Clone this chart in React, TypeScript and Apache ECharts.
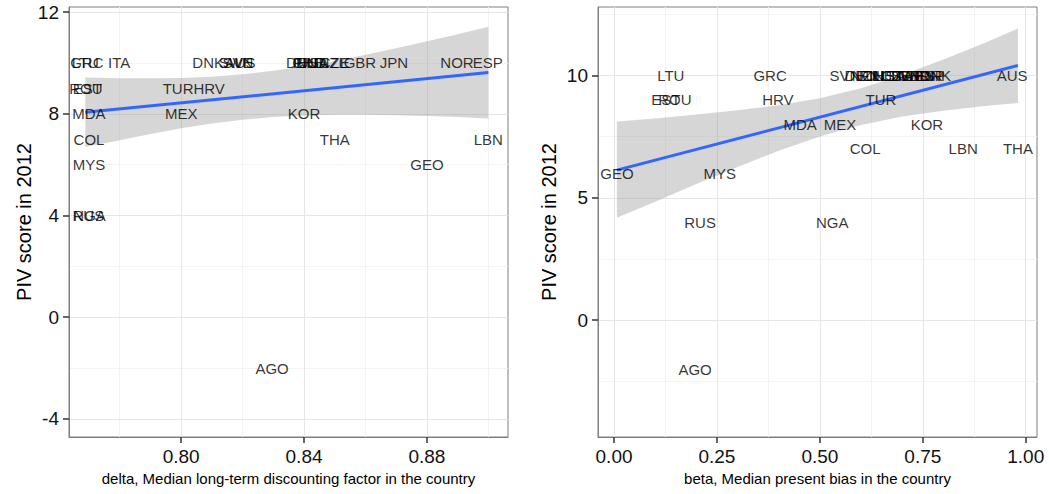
import React, { useEffect, useRef } from "react";
import * as echarts from "echarts";

// ---- data ----
const countries = [
  "LTU", "GRC", "ITA", "DNK", "SWE", "AUS", "SVN", "DEU", "FIN", "CHE", "NLD", "USA",
  "NZL", "CZE", "GBR", "JPN", "NOR", "ESP", "EST", "ROU", "TUR", "HRV", "MDA", "MEX",
  "KOR", "COL", "THA", "LBN", "MYS", "GEO", "RUS", "NGA", "AGO",
];
const delta = [
  0.7688, 0.7693, 0.7798, 0.8088, 0.8178, 0.8192, 0.8185, 0.8393, 0.8403, 0.8413, 0.8423, 0.843,
  0.8493, 0.85, 0.8582, 0.8693, 0.8898, 0.8998, 0.7695, 0.769, 0.799, 0.8091, 0.77, 0.8,
  0.84, 0.77, 0.85, 0.9, 0.77, 0.88, 0.7698, 0.7702, 0.8296,
];
const beta = [
  0.138, 0.379, 0.7, 0.78, 0.714, 0.967, 0.561, 0.598, 0.627, 0.641, 0.656, 0.67,
  0.612, 0.685, 0.729, 0.743, 0.758, 0.767, 0.126, 0.148, 0.6485, 0.398, 0.452, 0.549,
  0.76, 0.61, 0.981, 0.848, 0.257, 0.007, 0.209, 0.53, 0.197,
];
const piv = [
  10, 10, 10, 10, 10, 10, 10, 10, 10, 10, 10, 10,
  10, 10, 10, 10, 10, 10, 9, 9, 9, 9, 8, 8,
  8, 7, 7, 7, 6, 6, 4, 4, -2,
];

// fitted lines and confidence bands
const deltaFitX = [0.7688, 0.9];
const deltaFitY = [8.06, 9.62];
const deltaBandX = [0.7688, 0.78, 0.79, 0.8, 0.81, 0.82, 0.83, 0.84, 0.85, 0.86, 0.87, 0.88, 0.89, 0.9];
const deltaBandLo = [6.69, 6.96, 7.21, 7.43, 7.62, 7.77, 7.87, 7.93, 7.96, 7.96, 7.94, 7.91, 7.87, 7.82];
const deltaBandHi = [9.43, 9.4, 9.4, 9.41, 9.46, 9.56, 9.69, 9.87, 10.08, 10.32, 10.58, 10.85, 11.13, 11.42];

const betaFitX = [0.007, 0.981];
const betaFitY = [6.13, 10.41];
const betaBandX = [0.007, 0.1, 0.2, 0.3, 0.4, 0.5, 0.6, 0.7, 0.8, 0.9, 0.981];
const betaBandLo = [4.18, 4.84, 5.56, 6.26, 6.92, 7.51, 7.98, 8.32, 8.56, 8.75, 8.88];
const betaBandHi = [8.12, 8.24, 8.4, 8.58, 8.78, 9.07, 9.48, 10.02, 10.65, 11.33, 11.92];

// ticks
const deltaTicks = [0.8, 0.84, 0.88];
const deltaMinor = [0.78, 0.82, 0.86, 0.9];
const betaTicks = [0, 0.25, 0.5, 0.75, 1.0];
const betaMinor = [0.125, 0.375, 0.625, 0.875];
const pivTicksL = [-4, 0, 4, 8, 12];
const pivMinorL = [-2, 2, 6, 10];
const pivTicksR = [0, 5, 10];
const pivMinorR = [-2.5, 2.5, 7.5, 12.5];

const FONT = "'Liberation Sans', Arial, sans-serif";

function majorAxis(o: any) {
  return {
    type: "value",
    gridIndex: o.grid,
    min: o.min,
    max: o.max,
    position: o.pos,
    z: 1,
    name: o.name,
    nameLocation: "middle",
    nameGap: o.nameGap,
    nameTextStyle: { fontFamily: FONT, fontSize: o.nameSize, color: "#000" },
    axisLine: { show: true, onZero: false, lineStyle: { color: "#7f7f7f", width: 1 } },
    axisTick: { show: true, length: 6, customValues: o.ticks, lineStyle: { color: "#333", width: 1.5 } },
    axisLabel: {
      show: true,
      customValues: o.ticks,
      margin: o.margin,
      fontFamily: FONT,
      fontSize: 19,
      color: "#111",
      formatter: o.fmt,
    },
    splitLine: { show: true, lineStyle: { color: "#e6e6e6", width: 1 } },
  };
}

function minorAxis(o: any) {
  return {
    type: "value",
    gridIndex: o.grid,
    min: o.min,
    max: o.max,
    position: o.pos,
    z: 0,
    axisLine: { show: false, onZero: false },
    axisTick: { show: false, customValues: o.ticks },
    axisLabel: { show: false },
    splitLine: { show: true, lineStyle: { color: "#f3f3f3", width: 1 } },
  };
}

const LX = { min: 0.7635, max: 0.9064 };
const LY = { min: -4.71, max: 12.2 };
const RX = { min: -0.0389, max: 1.0274 };
const RY = { min: -4.78, max: 12.8 };

function bandSeries(xi: number, bx: number[], lo: number[], hi: number[]) {
  return {
    type: "custom",
    coordinateSystem: "cartesian2d",
    xAxisIndex: xi,
    yAxisIndex: xi,
    silent: true,
    z: 2,
    encode: { x: 0, y: [1, 2] },
    data: bx.map((x, i) => [x, lo[i], hi[i]]),
    renderItem: (params: any, api: any) => {
      if (params.dataIndex !== 0) return null;
      const upper = bx.map((x, i) => api.coord([x, hi[i]]));
      const lower = bx.map((x, i) => api.coord([x, lo[i]])).reverse();
      return {
        type: "polygon",
        shape: { points: upper.concat(lower) },
        style: { fill: "rgba(153,153,153,0.4)", stroke: "none" },
      };
    },
  };
}

function fitSeries(xi: number, fx: number[], fy: number[]) {
  return {
    type: "line",
    xAxisIndex: xi,
    yAxisIndex: xi,
    symbol: "none",
    silent: true,
    z: 3,
    lineStyle: { color: "#3366FF", width: 3 },
    data: fx.map((x, i) => [x, fy[i]]),
  };
}

function labelSeries(xi: number, xs: number[]) {
  return {
    type: "scatter",
    xAxisIndex: xi,
    yAxisIndex: xi,
    symbolSize: 1,
    silent: true,
    z: 4,
    itemStyle: { color: "transparent" },
    label: {
      show: true,
      position: "inside",
      formatter: "{b}",
      fontFamily: FONT,
      fontSize: 15,
      color: "#000",
    },
    data: countries.map((c, i) => ({ name: c, value: [xs[i], piv[i]] })),
  };
}

const option: any = {
  animation: false,
  backgroundColor: "#fff",
  textStyle: { fontFamily: FONT },
  grid: [
    { left: 69, top: 7, width: 439, height: 430, show: true, borderColor: "#7f7f7f", borderWidth: 1, backgroundColor: "transparent" },
    { left: 598, top: 7, width: 439, height: 430, show: true, borderColor: "#7f7f7f", borderWidth: 1, backgroundColor: "transparent" },
  ],
  xAxis: [
    majorAxis({
      grid: 0, ...LX, pos: "bottom", ticks: deltaTicks, margin: 10,
      fmt: (v: number) => v.toFixed(2),
      name: "delta, Median long-term discounting factor in the country", nameGap: 29, nameSize: 15,
    }),
    majorAxis({
      grid: 1, ...RX, pos: "bottom", ticks: betaTicks, margin: 10,
      fmt: (v: number) => v.toFixed(2),
      name: "beta, Median present bias in the country", nameGap: 29, nameSize: 15,
    }),
    minorAxis({ grid: 0, ...LX, pos: "bottom", ticks: deltaMinor }),
    minorAxis({ grid: 1, ...RX, pos: "bottom", ticks: betaMinor }),
  ],
  yAxis: [
    majorAxis({
      grid: 0, ...LY, pos: "left", ticks: pivTicksL, margin: 10,
      fmt: (v: number) => String(v),
      name: "PIV score in 2012", nameGap: 31, nameSize: 20,
    }),
    majorAxis({
      grid: 1, ...RY, pos: "left", ticks: pivTicksR, margin: 10,
      fmt: (v: number) => String(v),
      name: "PIV score in 2012", nameGap: 39, nameSize: 20,
    }),
    minorAxis({ grid: 0, ...LY, pos: "left", ticks: pivMinorL }),
    minorAxis({ grid: 1, ...RY, pos: "left", ticks: pivMinorR }),
  ],
  series: [
    bandSeries(0, deltaBandX, deltaBandLo, deltaBandHi),
    fitSeries(0, deltaFitX, deltaFitY),
    labelSeries(0, delta),
    bandSeries(1, betaBandX, betaBandLo, betaBandHi),
    fitSeries(1, betaFitX, betaFitY),
    labelSeries(1, beta),
  ],
};

export default function App() {
  const ref = useRef<HTMLDivElement>(null);
  useEffect(() => {
    const chart = echarts.init(ref.current!, null, { renderer: "svg" });
    chart.setOption(option);
    return () => chart.dispose();
  }, []);
  return (
    <div
      ref={ref}
      style={{ position: "absolute", left: 0, top: 0, width: 1049, height: 494, background: "#fff" }}
    />
  );
}
